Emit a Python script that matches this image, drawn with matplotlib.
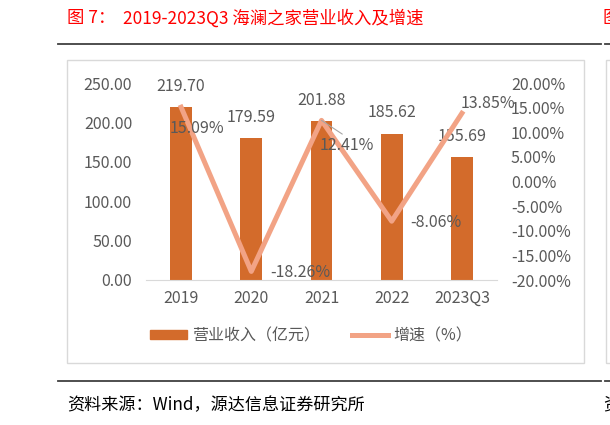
#海澜之家营业收入及增速
import matplotlib.pyplot as plt
from matplotlib.patches import Rectangle, Patch
from matplotlib.lines import Line2D

plt.rcParams['font.family'] = ['Noto Sans CJK SC', 'DejaVu Sans']

years = ['2019', '2020', '2021', '2022', '2023Q3']
revenue = [219.70, 179.59, 201.88, 185.62, 155.69]   # 亿元
growth = [15.09, -18.26, 12.41, -8.06, 13.85]        # %

bar_color = '#D36B2B'
line_color = '#F2A385'
grey = '#595959'
W, H = 610, 425
fs = 11.5

def fx(px):
    return px / W

def fy(py):
    return 1 - py / H

fig = plt.figure(figsize=(6.1, 4.25), dpi=100)

# title, rules, source
fig.text(fx(67), fy(18), '图 7：', color='red', fontsize=12.5, va='center')
fig.text(fx(123), fy(18), '2019-2023Q3 海澜之家营业收入及增速', color='red', fontsize=12.5, va='center')
fig.text(fx(603), fy(18), '图', color='red', fontsize=12.5, va='center')
fig.add_artist(Line2D([fx(58), fx(601)], [fy(44), fy(44)], color='#404040', lw=1.3))
fig.add_artist(Line2D([fx(605), fx(610)], [fy(44), fy(44)], color='#404040', lw=1.3))
fig.add_artist(Line2D([fx(58), fx(601)], [fy(381), fy(381)], color='#404040', lw=1.3))
fig.add_artist(Line2D([fx(605), fx(610)], [fy(381), fy(381)], color='#404040', lw=1.3))
fig.text(fx(67), fy(405), '资料来源：Wind，源达信息证券研究所', color='black', fontsize=12.3, va='center')
fig.text(fx(603), fy(405), '资', color='black', fontsize=12.3, va='center')

# chart frames
fig.add_artist(Rectangle((fx(67), fy(363)), fx(517), 303 / H, fill=False, ec='#D9D9D9', lw=1))
fig.add_artist(Rectangle((fx(606), fy(363)), fx(20), 303 / H, fill=False, ec='#D9D9D9', lw=1))

ax = fig.add_axes([fx(146), 145 / H, fx(351), 197 / H])
x = range(len(years))
ax.bar(x, revenue, width=0.31, color=bar_color, zorder=2)
ax.set_ylim(0, 250)
ax.set_xlim(-0.5, len(years) - 0.5)
ax.set_yticks([0, 50, 100, 150, 200, 250])
ax.set_yticklabels(['%.2f' % v for v in [0, 50, 100, 150, 200, 250]])
ax.set_xticks(list(x))
ax.set_xticklabels(years)
for s in ['top', 'left', 'right']:
    ax.spines[s].set_visible(False)
ax.spines['bottom'].set_color('#D9D9D9')
ax.tick_params(axis='y', length=0, pad=10, labelcolor=grey, labelsize=fs)
ax.tick_params(axis='x', length=0, pad=7, labelcolor=grey, labelsize=fs)

for i, v in enumerate(revenue):
    ax.annotate('%.2f' % v, (i, v), xytext=(0, 15), textcoords='offset points',
                ha='center', va='center', color=grey, fontsize=fs)

ax2 = ax.twinx()
ax2.plot(list(x), growth, color=line_color, lw=3.6, zorder=3)
ax2.set_ylim(-20, 20)
ax2.set_yticks(range(-20, 25, 5))
ax2.set_yticklabels(['%.2f%%' % v for v in range(-20, 25, 5)])
for s in ['top', 'left', 'right', 'bottom']:
    ax2.spines[s].set_visible(False)
ax2.tick_params(axis='y', length=0, pad=10, labelcolor=grey, labelsize=fs)

# growth labels: (dx, dy) offsets in points
offsets = [(-8, -15, 'left'), (14, -1, 'left'), (18, -18, 'center'), (13, -1, 'left'), (-1, 7, 'left')]
for i, g in enumerate(growth):
    dx, dy, ha = offsets[i]
    if i == 2:
        ax2.annotate('%.2f%%' % g, (i, g), xytext=(dx, dy), textcoords='offset points',
                     ha=ha, va='center', color=grey, fontsize=fs,
                     arrowprops=dict(arrowstyle='-', color='#A6A6A6', lw=0.8,
                                     relpos=(0.5, 1), shrinkA=0, shrinkB=0))
    else:
        ax2.annotate('%.2f%%' % g, (i, g), xytext=(dx, dy), textcoords='offset points',
                     ha=ha, va='center', color=grey, fontsize=fs)

handles = [Patch(color=bar_color), Line2D([], [], color=line_color, lw=3.6)]
fig.legend(handles, ['营业收入（亿元）', '增速（%）'], loc='center', bbox_to_anchor=(fx(311), fy(336)),
           ncol=2, frameon=False, fontsize=fs, labelcolor=grey, handlelength=2.3,
           handleheight=0.5, handletextpad=0.3, columnspacing=2.0)

fig.savefig('out.png', dpi=100)
